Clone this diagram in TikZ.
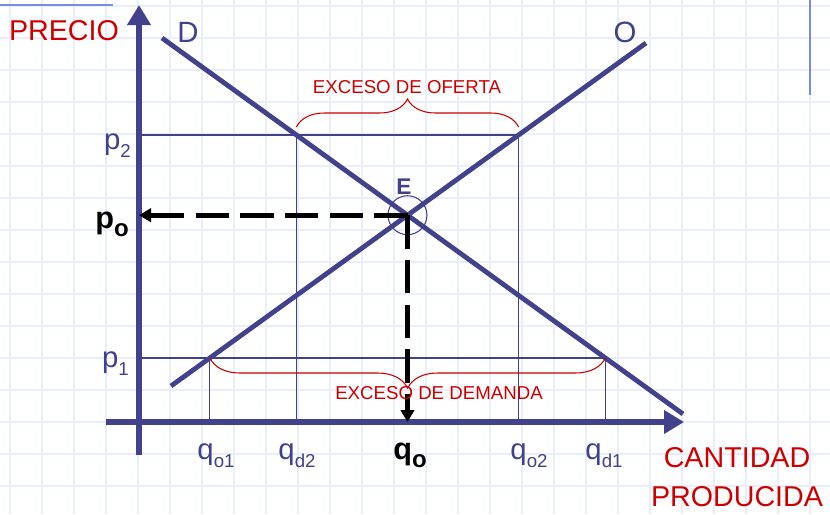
\documentclass[tikz,border=0pt]{standalone}
\usepackage{fontspec}
\setmainfont{Liberation Sans}
\usetikzlibrary{arrows.meta,decorations.pathreplacing}

\definecolor{curva}{RGB}{65,65,140}
\definecolor{rojo}{RGB}{204,0,0}
\definecolor{cuadro}{RGB}{233,238,252}
\definecolor{borde}{RGB}{120,140,225}

\newcommand{\indice}[2][14]{\raisebox{-6pt}{\fontsize{#1}{#1}\selectfont #2}}

\tikzset{
  eje/.style={line width=5pt, draw=curva, -{Triangle[length=15pt,width=17pt,fill=curva]}},
  recta/.style={line width=3.6pt, draw=curva},
  guia/.style={line width=0.8pt, draw=curva},
  flecha/.style={line width=3.8pt, draw=black, dash pattern=on 25pt off 8.5pt, -{Triangle[length=9pt,width=10pt]}},
  llave/.style={draw=rojo, line width=0.8pt, decorate, decoration={brace, amplitude=#1}},
  rotulo/.style={font=\fontsize{22}{24}\selectfont, text=curva, inner sep=0pt},
  negrita/.style={font=\bfseries\fontsize{23}{26}\selectfont, text=black, inner sep=0pt},
  titulo/.style={font=\fontsize{21.5}{29}\selectfont, text=rojo, align=center, inner sep=0pt},
  exceso/.style={font=\fontsize{14}{16}\selectfont, text=rojo, inner sep=0pt}
}

\begin{document}
\begin{tikzpicture}[x=0.75pt,y=-0.75pt]

\useasboundingbox (0,0) rectangle (830,514);
\fill[white] (0,0) rectangle (830,514);

% papel cuadriculado
\foreach \gx in {10,42,...,810} \draw[cuadro, line width=0.8pt] (\gx,0) -- (\gx,514);
\foreach \gy in {6,38,...,486} \draw[cuadro, line width=0.8pt] (0,\gy) -- (830,\gy);
\draw[borde, line width=0.8pt] (0,5) -- (113,5);
\draw[borde, line width=0.8pt] (810,0) -- (810,95);

% puntos
\coordinate (ejeYa) at (139,455);
\coordinate (ejeYb) at (139,5);
\coordinate (ejeXa) at (106,422);
\coordinate (ejeXb) at (684,422);
\coordinate (orig) at (139,422);
\coordinate (dem1) at (162,38);
\coordinate (dem2) at (683,414);
\coordinate (of1) at (171,386);
\coordinate (of2) at (646,43);
\coordinate (E) at (407.5,215.2);
\coordinate (a2) at (139,135);
\coordinate (d2) at (296.4,135);
\coordinate (o2) at (518.6,135);
\coordinate (a1) at (139,358);
\coordinate (o1) at (209.8,358);
\coordinate (d1) at (605.4,358);

% lineas guia
\draw[guia] (a2) -- (o2);
\draw[guia] (a1) -- (d1);
\draw[guia] (d2) -- (d2 |- orig);
\draw[guia] (o2) -- (o2 |- orig);
\draw[guia] (o1) -- (o1 |- orig);
\draw[guia] (d1) -- (d1 |- orig);

% ejes
\draw[eje] (ejeYa) -- (ejeYb);
\draw[eje] (ejeXa) -- (ejeXb);

% oferta y demanda
\draw[recta] (dem1) -- (dem2);
\draw[recta] (of1) -- (of2);

% equilibrio
\draw[guia] (E) circle[radius=14.6pt];
\draw[flecha] (E) -- (E -| orig);
\draw[flecha] (E) -- (E |- orig);

% llaves
\draw[llave=21pt] ([yshift=6pt]d2) -- ([yshift=6pt]o2);
\draw[llave=22.5pt] (d1) -- (o1);

% textos
\node[titulo] (precio) at (64,31) {PRECIO};
\node[titulo] (cantidad) at (737,477) {CANTIDAD\\PRODUCIDA};
\node[rotulo] (Dlbl) at (188,32) {D};
\node[rotulo] (Olbl) at (625,32) {O};
\node[font=\bfseries\fontsize{17}{20}\selectfont, text=curva, inner sep=0pt] (Elbl) at (404,187) {E};
\node[exceso] (exof) at (407,87) {EXCESO DE OFERTA};
\node[exceso] (exdem) at (439,393) {EXCESO DE DEMANDA};

\node[rotulo, anchor=base east] (p2) at (131,149) {p\indice{2}};
\node[negrita, anchor=base east] (p0) at (129,228) {p\indice[18]{o}};
\node[rotulo, anchor=base east] (p1) at (129,367) {p\indice{1}};

\node[rotulo, anchor=base] (qo1) at (216,459) {q\indice{o1}};
\node[rotulo, anchor=base] (qd2) at (297,459) {q\indice{d2}};
\node[negrita, anchor=base] (q0) at (410,459) {q\indice[18]{o}};
\node[rotulo, anchor=base] (qo2) at (529,459) {q\indice{o2}};
\node[rotulo, anchor=base] (qd1) at (604,459) {q\indice{d1}};

\end{tikzpicture}
\end{document}
